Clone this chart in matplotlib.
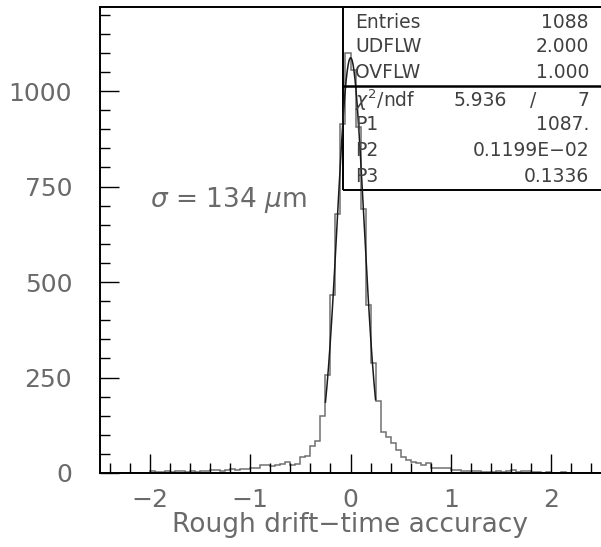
import numpy as np
import matplotlib
matplotlib.use("Agg")
import matplotlib.pyplot as plt
from matplotlib.patches import Rectangle
from matplotlib.ticker import MultipleLocator

# histogram: 100 bins of 0.05 from -2.5 to 2.5 (counts)
x_lo, x_hi, n_bins = -2.5, 2.5, 100
counts = [
    0, 0, 1, 0, 0, 1, 0, 0, 1, 0,          # -2.50 .. -2.00
    4, 2, 3, 5, 3, 4, 4, 3, 5, 3,          # -2.00 .. -1.50
    6, 4, 7, 8, 6, 9, 10, 9, 11, 10,       # -1.50 .. -1.00
    13, 14, 21, 20, 18, 20, 23, 29, 22, 24,  # -1.00 .. -0.50
    42, 45, 71, 84, 150, 257, 467, 677, 913, 1100,  # -0.50 .. 0.00
    1055, 905, 690, 441, 289, 189, 108, 95, 79, 60,  # 0.00 .. 0.50
    42, 34, 30, 27, 20, 27, 14, 14, 13, 14,  # 0.50 .. 1.00
    9, 9, 6, 5, 4, 5, 3, 2, 3, 4,          # 1.00 .. 1.50
    3, 6, 7, 3, 4, 4, 2, 3, 1, 2,          # 1.50 .. 2.00
    1, 0, 2, 0, 1, 0, 0, 1, 0, 0,          # 2.00 .. 2.50
]

# gaussian fit results shown in the stat box
P1, P2, P3 = 1087.0, 0.1199e-02, 0.1336
fit_lo, fit_hi = -0.25, 0.25

stat_rows = [("Entries", "1088"), ("UDFLW", "2.000"), ("OVFLW", "1.000")]
fit_rows = [("P1", "1087."), ("P2", "0.1199E\u221202"), ("P3", "0.1336")]
chi2, ndf = "5.936", "7"

y_ticks = [0, 250, 500, 750, 1000]
x_ticks = [-2, -1, 0, 1, 2]

GRAY = "#6a6a6a"
TXT = "#404040"
FS_BOX = 13.5
fig = plt.figure(figsize=(6.01, 5.47), dpi=100)
ax = fig.add_axes([100 / 601, 74 / 547, 501 / 601, 466 / 547])

edges = np.linspace(x_lo, x_hi, n_bins + 1)
ax.stairs(counts, edges, color="#707070", lw=1.1)

xf = np.linspace(fit_lo, fit_hi, 200)
ax.plot(xf, P1 * np.exp(-0.5 * ((xf - P2) / P3) ** 2), color="#1a1a1a", lw=1.1)

ax.set_xlim(x_lo, x_hi)
ax.set_ylim(0, 1220)
ax.set_xticks(x_ticks)
ax.set_xticklabels([f"\u2212{abs(v)}" if v < 0 else str(v) for v in x_ticks])
ax.set_yticks(y_ticks)
ax.xaxis.set_minor_locator(MultipleLocator(0.2))
ax.yaxis.set_minor_locator(MultipleLocator(50))
ax.tick_params(which="both", direction="in", color="black", labelcolor=GRAY,
               labelsize=18, top=False, right=False)
ax.tick_params(which="major", length=14, width=1.0)
ax.tick_params(which="minor", length=7, width=1.0)
ax.tick_params(axis="y", pad=20)
ax.tick_params(axis="x", pad=11)
for s in ("left", "bottom", "top"):
    ax.spines[s].set_linewidth(1.4)
ax.spines["right"].set_visible(False)
ax.set_xlabel("Rough drift\u2212time accuracy", fontsize=19, color=GRAY, labelpad=0)

ax.text(-2.0, 715, r"$\sigma$ = 134 $\mu$m", fontsize=19, color=GRAY, va="center")

# stat box (axes fraction)
bx0, by0, by_div = 0.485, 0.607, 0.830
ax.add_patch(Rectangle((bx0, by0), 1.0 - bx0 + 0.01, 1.0 - by0, transform=ax.transAxes,
                       fill=False, ec="black", lw=1.4, clip_on=False))
ax.plot([bx0, 1.01], [by_div, by_div], transform=ax.transAxes, color="black",
        lw=1.8, clip_on=False)

def row_y(px):
    return (473 - px) / 466

xl, xr = 0.509, 0.976
for (lab, val), py in zip(stat_rows, [22, 47, 72]):
    ax.text(xl, row_y(py), lab, transform=ax.transAxes, fontsize=FS_BOX, color=TXT, va="center")
    ax.text(xr, row_y(py), val, transform=ax.transAxes, fontsize=FS_BOX, color=TXT,
            va="center", ha="right")
ax.text(xl, row_y(100), r"$\chi^2$/ndf", transform=ax.transAxes, fontsize=FS_BOX, color=TXT, va="center")
ax.text(0.812, row_y(100), chi2, transform=ax.transAxes, fontsize=FS_BOX, color=TXT, va="center", ha="right")
ax.text(0.864, row_y(100), "/", transform=ax.transAxes, fontsize=FS_BOX, color=TXT, va="center", ha="center")
ax.text(xr, row_y(100), ndf, transform=ax.transAxes, fontsize=FS_BOX, color=TXT, va="center", ha="right")
for (lab, val), py in zip(fit_rows, [125, 150, 176]):
    ax.text(xl, row_y(py), lab, transform=ax.transAxes, fontsize=FS_BOX, color=TXT, va="center")
    ax.text(xr, row_y(py), val, transform=ax.transAxes, fontsize=FS_BOX, color=TXT,
            va="center", ha="right")

fig.savefig("out.png", dpi=100)
